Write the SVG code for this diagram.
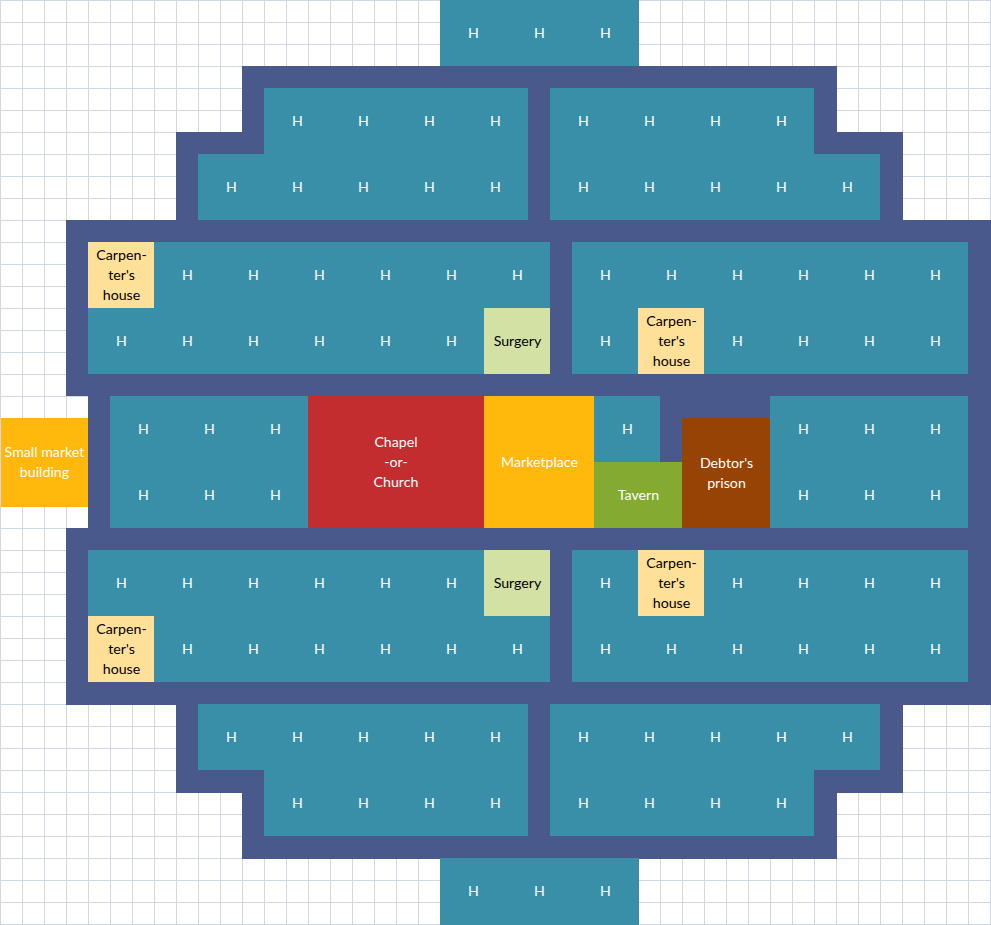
<svg xmlns="http://www.w3.org/2000/svg" width="991" height="925" viewBox="0 0 991 925">
<defs>
<pattern id="grid" width="22" height="22" patternUnits="userSpaceOnUse"><rect width="22" height="22" fill="#fff"/><rect width="22" height="1" fill="#d0d7e5"/><rect width="1" height="22" fill="#d0d7e5"/></pattern>
</defs>
<style>
text{font-family:Lato,"Liberation Sans",sans-serif;font-size:14.2px;text-anchor:middle}
.w{fill:#fff}.k{fill:#000}
.t{fill:#3a8fa8}.b{fill:#4a598c}
</style>
<rect id="grid-background" width="991" height="925" fill="url(#grid)"/>
<path id="walls" class="b" d="M242 66H837V132H903V220H991V705H903V793H837V859H242V793H176V705H66V528H88V396H66V220H176V132H242Z"/>
<g id="houses-blocks">
<rect class="t" x="440" y="0" width="199" height="66"/>
<path class="t" d="M264 88H528V220H198V154H264Z"/>
<path class="t" d="M550 88H814V154H880V220H550Z"/>
<rect class="t" x="88" y="242" width="462" height="132"/>
<rect class="t" x="572" y="242" width="396" height="132"/>
<rect class="t" x="110" y="396" width="198" height="132"/>
<rect class="t" x="594" y="396" width="66" height="66"/>
<rect class="t" x="770" y="396" width="198" height="132"/>
<rect class="t" x="88" y="550" width="462" height="132"/>
<rect class="t" x="572" y="550" width="396" height="132"/>
<path class="t" d="M198 704H528V836H264V770H198Z"/>
<path class="t" d="M550 704H880V770H814V836H550Z"/>
<rect class="t" x="440" y="858" width="199" height="67"/>
</g>
<g id="house-labels" class="w">
<text x="473.500" y="38">H</text><text x="539.500" y="38">H</text><text x="605.500" y="38">H</text>
<text x="297.500" y="126">H</text><text x="363.500" y="126">H</text><text x="429.500" y="126">H</text><text x="495.500" y="126">H</text><text x="583.500" y="126">H</text><text x="649.500" y="126">H</text><text x="715.500" y="126">H</text><text x="781.500" y="126">H</text>
<text x="231.500" y="192">H</text><text x="297.500" y="192">H</text><text x="363.500" y="192">H</text><text x="429.500" y="192">H</text><text x="495.500" y="192">H</text><text x="583.500" y="192">H</text><text x="649.500" y="192">H</text><text x="715.500" y="192">H</text><text x="781.500" y="192">H</text><text x="847.500" y="192">H</text>
<text x="187.500" y="280">H</text><text x="253.500" y="280">H</text><text x="319.500" y="280">H</text><text x="385.500" y="280">H</text><text x="451.500" y="280">H</text><text x="517.500" y="280">H</text><text x="605.500" y="280">H</text><text x="671.500" y="280">H</text><text x="737.500" y="280">H</text><text x="803.500" y="280">H</text><text x="869.500" y="280">H</text><text x="935.500" y="280">H</text>
<text x="121.500" y="346">H</text><text x="187.500" y="346">H</text><text x="253.500" y="346">H</text><text x="319.500" y="346">H</text><text x="385.500" y="346">H</text><text x="451.500" y="346">H</text><text x="605.500" y="346">H</text><text x="737.500" y="346">H</text><text x="803.500" y="346">H</text><text x="869.500" y="346">H</text><text x="935.500" y="346">H</text>
<text x="143.500" y="434">H</text><text x="209.500" y="434">H</text><text x="275.500" y="434">H</text><text x="627.500" y="434">H</text><text x="803.500" y="434">H</text><text x="869.500" y="434">H</text><text x="935.500" y="434">H</text>
<text x="143.500" y="500">H</text><text x="209.500" y="500">H</text><text x="275.500" y="500">H</text><text x="803.500" y="500">H</text><text x="869.500" y="500">H</text><text x="935.500" y="500">H</text>
<text x="121.500" y="588">H</text><text x="187.500" y="588">H</text><text x="253.500" y="588">H</text><text x="319.500" y="588">H</text><text x="385.500" y="588">H</text><text x="451.500" y="588">H</text><text x="605.500" y="588">H</text><text x="737.500" y="588">H</text><text x="803.500" y="588">H</text><text x="869.500" y="588">H</text><text x="935.500" y="588">H</text>
<text x="187.500" y="654">H</text><text x="253.500" y="654">H</text><text x="319.500" y="654">H</text><text x="385.500" y="654">H</text><text x="451.500" y="654">H</text><text x="517.500" y="654">H</text><text x="605.500" y="654">H</text><text x="671.500" y="654">H</text><text x="737.500" y="654">H</text><text x="803.500" y="654">H</text><text x="869.500" y="654">H</text><text x="935.500" y="654">H</text>
<text x="231.500" y="742">H</text><text x="297.500" y="742">H</text><text x="363.500" y="742">H</text><text x="429.500" y="742">H</text><text x="495.500" y="742">H</text><text x="583.500" y="742">H</text><text x="649.500" y="742">H</text><text x="715.500" y="742">H</text><text x="781.500" y="742">H</text><text x="847.500" y="742">H</text>
<text x="297.500" y="808">H</text><text x="363.500" y="808">H</text><text x="429.500" y="808">H</text><text x="495.500" y="808">H</text><text x="583.500" y="808">H</text><text x="649.500" y="808">H</text><text x="715.500" y="808">H</text><text x="781.500" y="808">H</text>
<text x="473.500" y="896">H</text><text x="539.500" y="896">H</text><text x="605.500" y="896">H</text>
</g>
<g id="small-market"><rect x="1" y="418" width="87" height="89" fill="#ffb80b"/><text class="w" x="44.500" y="457">Small market</text><text class="w" x="44.500" y="477">building</text></g>
<g id="chapel"><rect x="308" y="396" width="176" height="132" fill="#c32d2f"/><text class="w" x="396" y="447">Chapel</text><text class="w" x="396" y="467">-or-</text><text class="w" x="396" y="487">Church</text></g>
<g id="marketplace"><rect x="484" y="396" width="110" height="132" fill="#ffb80b"/><text class="w" x="539.500" y="467">Marketplace</text></g>
<g id="tavern"><rect x="594" y="462" width="88" height="66" fill="#85aa32"/><text class="w" x="638.500" y="500">Tavern</text></g>
<g id="debtors-prison"><rect x="682" y="418" width="88" height="110" fill="#964305"/><text class="w" x="726.500" y="468">Debtor's</text><text class="w" x="726.500" y="488">prison</text></g>
<g id="surgery-1"><rect x="484" y="308" width="66" height="66" fill="#d3e2a4"/><text class="k" x="517.500" y="346">Surgery</text></g>
<g id="surgery-2"><rect x="484" y="550" width="66" height="66" fill="#d3e2a4"/><text class="k" x="517.500" y="588">Surgery</text></g>
<g id="carpenter-1"><rect x="88" y="242" width="66" height="66" fill="#ffe099"/><text class="k" x="121.500" y="260">Carpen-</text><text class="k" x="121.500" y="280">ter's</text><text class="k" x="121.500" y="300">house</text></g>
<g id="carpenter-2"><rect x="638" y="308" width="66" height="66" fill="#ffe099"/><text class="k" x="671.500" y="326">Carpen-</text><text class="k" x="671.500" y="346">ter's</text><text class="k" x="671.500" y="366">house</text></g>
<g id="carpenter-3"><rect x="638" y="550" width="66" height="66" fill="#ffe099"/><text class="k" x="671.500" y="568">Carpen-</text><text class="k" x="671.500" y="588">ter's</text><text class="k" x="671.500" y="608">house</text></g>
<g id="carpenter-4"><rect x="88" y="616" width="66" height="66" fill="#ffe099"/><text class="k" x="121.500" y="634">Carpen-</text><text class="k" x="121.500" y="654">ter's</text><text class="k" x="121.500" y="674">house</text></g>
</svg>
